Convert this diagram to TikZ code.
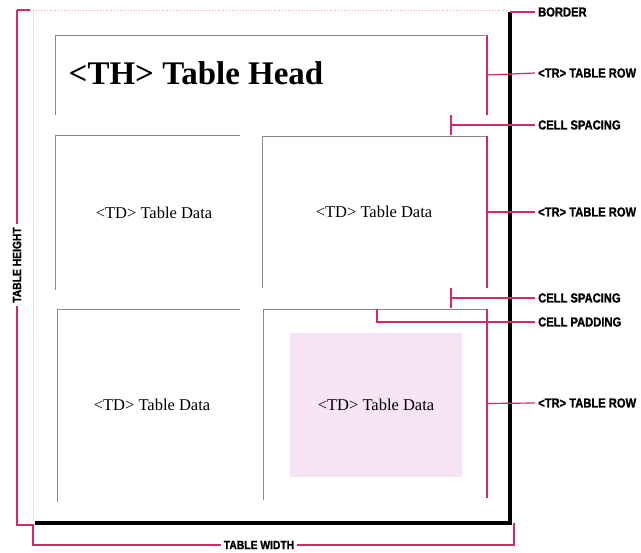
\documentclass[tikz,border=0pt]{standalone}
\usepackage{fontspec}
\setmainfont{Liberation Serif}
\newfontfamily\tagfont[FakeStretch=0.86,FakeBold=1.2]{Liberation Sans}
\usepackage{xcolor}
\definecolor{rose}{HTML}{D8266A}
\definecolor{cellgrey}{HTML}{8A8A8A}
\definecolor{palerose}{HTML}{F6E3F3}
\definecolor{faint}{HTML}{E6E6E6}
\usetikzlibrary{positioning}
\tikzset{
  cell/.style   ={draw=cellgrey,line width=0.9pt},
  dim/.style    ={draw=rose,line width=1.2pt},
  border/.style ={draw=black,line width=4pt},
  tag/.style    ={font=\tagfont\bfseries\fontsize{13}{15}\selectfont,
                  anchor=west,inner sep=3pt},
  measure/.style={font=\tagfont\bfseries\fontsize{12}{14}\selectfont,
                  inner sep=3pt,fill=white},
  thtext/.style ={font=\bfseries\fontsize{33}{36}\selectfont,inner sep=0pt},
  tdtext/.style ={font=\fontsize{16.5}{18}\selectfont,inner sep=0pt},
}

\begin{document}
\begin{tikzpicture}[x=1pt,y=-1pt]
\useasboundingbox (0,0) rectangle (641,553);
% padded area of the last cell
\fill[palerose] (290,333) rectangle (462,477);
% faint top and left table edges
\draw[faint,line width=0.8pt] (33,12) -- (33,521);
\draw[rose!45,dotted,line width=0.8pt] (30,10) -- (508,10);
% cells: only the top and left edges show
\draw[cell] (55,115) |- (485,35);
\foreach \xa/\xb/\ya/\yb in {55/240/135/290,262/487/136/288,57/240/309/502,263/487/309/500}
  \draw[cell] (\xa,\yb) |- (\xb,\ya);
\node[thtext] (th) at (196,73) {<TH> Table Head};
\node[tdtext] (td1) at (154,213) {<TD> Table Data};
\node[tdtext] (td2) at (374,212) {<TD> Table Data};
\node[tdtext] (td3) at (152,405) {<TD> Table Data};
\node[tdtext] (td4) at (376,405) {<TD> Table Data};
% border
\draw[border] (510,12) -- (510,523) -- (35,523);
% right column labels
\node[tag] (lborder) at (535,12) {BORDER};
\node[tag] (lrow1) at (535,73) {<TR> TABLE ROW};
\node[tag] (lspace1) at (535,125) {CELL SPACING};
\node[tag] (lrow2) at (535,212) {<TR> TABLE ROW};
\node[tag] (lspace2) at (535,298) {CELL SPACING};
\node[tag] (lpad) at (535,322) {CELL PADDING};
\node[tag] (lrow3) at (535,403) {<TR> TABLE ROW};
\draw[dim] (510,12) -- (lborder.west);
% row markers
\foreach \ya/\yb/\lbl in {35/115/lrow1,136/288/lrow2,309/498/lrow3} {
  \draw[dim] (487,\ya) -- (487,\yb);
  \draw[dim] (487,{(\ya+\yb)/2}) -- (\lbl.west);
}
% spacing and padding markers
\foreach \y/\lbl in {125/lspace1,298/lspace2} {
  \draw[dim] (451,\y-10) -- (451,\y+10);
  \draw[dim] (451,\y) -- (\lbl.west);
}
\draw[dim] (377,309) |- (lpad.west);
% overall size
\node[measure,rotate=90] (theight) at (17,265) {TABLE HEIGHT};
\node[measure] (twidth) at (259,545) {TABLE WIDTH};
\draw[dim] (17,10) -- (30,10);
\draw[dim] (17,10) -- (theight.east);
\draw[dim] (theight.west) -- (17,525) -- (33,525) -- (33,545) -- (twidth.west);
\draw[dim] (twidth.east) -- (514,545) -- (514,523);
\end{tikzpicture}
\end{document}
